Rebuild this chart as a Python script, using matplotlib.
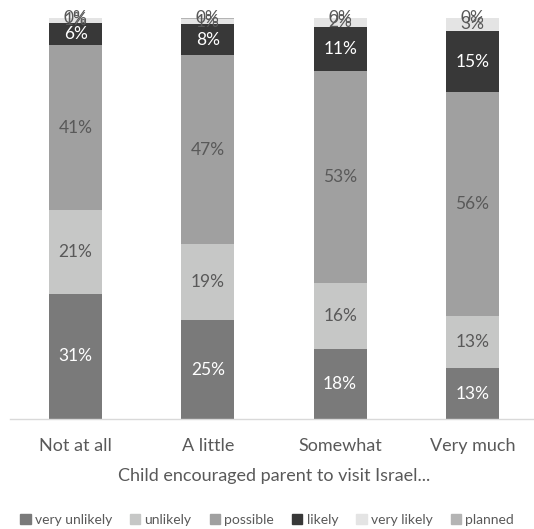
import matplotlib
matplotlib.use("Agg")
import matplotlib.pyplot as plt
import numpy as np

categories = ["Not at all", "A little", "Somewhat", "Very much"]
series_names = ["very unlikely", "unlikely", "possible", "likely", "very likely", "planned"]
very_unlikely = [31.2, 24.6, 17.5, 12.6]
unlikely = [20.9, 19.0, 16.4, 13.2]
possible = [41.1, 47.1, 52.9, 55.7]
likely = [5.6, 7.7, 11.0, 15.3]
very_likely = [1.2, 1.4, 2.2, 3.2]
planned = [0.0, 0.2, 0.0, 0.0]
xlabel = "Child encouraged parent to visit Israel..."

series = [very_unlikely, unlikely, possible, likely, very_likely, planned]
colors = ["#7a7a7a", "#c6c7c6", "#a0a0a0", "#383838", "#e4e4e4", "#b4b4b4"]
text_colors = ["white", "#595959", "#595959", "white", "#595959", "#595959"]

plt.rcParams['font.family'] = ['Lato', 'DejaVu Sans']

fig = plt.figure(figsize=(5.34, 5.29), dpi=100)
ax = fig.add_axes([9.5/534, 1 - 419/529, 529/534, 401/529])

x = np.arange(len(categories))
bottom = np.zeros(len(categories))
for name, vals, c, tc in zip(series_names, series, colors, text_colors):
    vals = np.array(vals, dtype=float)
    ax.bar(x, vals, 0.4, bottom=bottom, color=c, label=name, zorder=2)
    for xi, b, v in zip(x, bottom, vals):
        ax.text(xi, b + v / 2, f"{v:.0f}%", ha="center", va="center",
                color=tc, fontsize=12.5, zorder=3)
    bottom += vals

ax.set_xlim(-0.5, 3.5)
ax.set_ylim(0, 100)
ax.set_yticks([])
ax.set_xticks(x)
ax.set_xticklabels(categories, fontsize=13, color="#595959")
ax.tick_params(axis="x", length=0, pad=14)
for s in ["top", "left", "right"]:
    ax.spines[s].set_visible(False)
ax.spines["bottom"].set_color("#d9d9d9")
ax.spines["bottom"].set_linewidth(1)
ax.set_xlabel(xlabel, fontsize=13, color="#595959", labelpad=10)

handles = [plt.Rectangle((0, 0), 1, 1, color=c) for c in colors]
fig.legend(handles, series_names, loc="center", bbox_to_anchor=(0.5, 1 - 520/529),
           ncol=6, frameon=False, fontsize=10, handlelength=0.75, handleheight=0.75,
           handletextpad=0.3, columnspacing=1.3, labelcolor="#595959")

fig.savefig("out.png", dpi=100)
